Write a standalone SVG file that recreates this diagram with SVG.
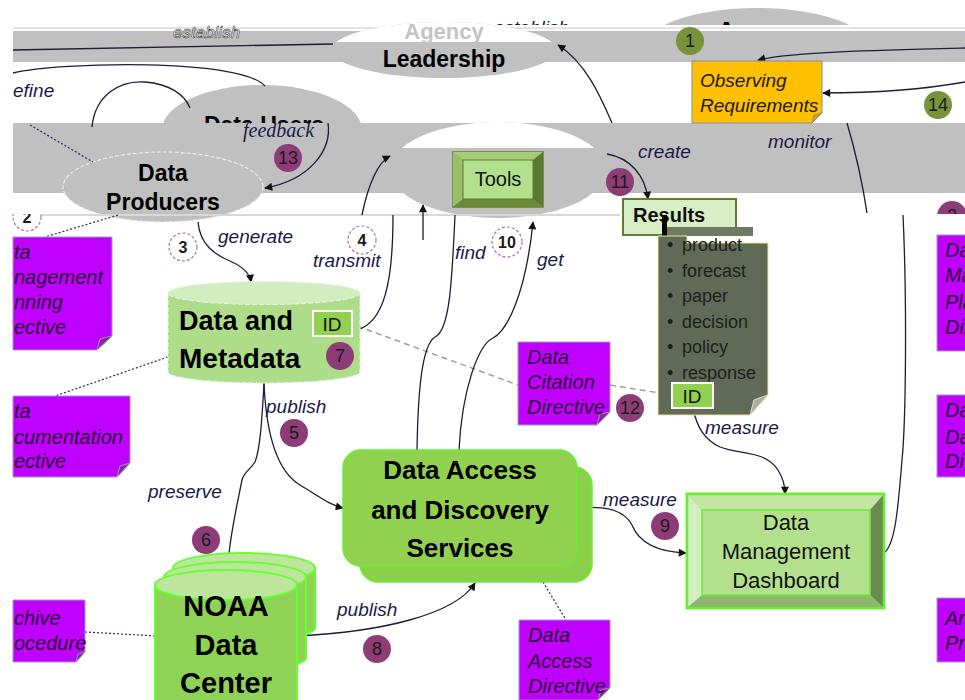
<svg xmlns="http://www.w3.org/2000/svg" width="965" height="700" viewBox="0 0 965 700">
<defs>
<style>
.lbl{font-family:"Liberation Sans",Arial,sans-serif;font-style:italic;font-size:19px;fill:#1a1a4a}
.ser{font-family:"Liberation Serif","Times New Roman",serif;font-style:italic;font-size:20px;fill:#1a1a4a}
.b{font-family:"Liberation Sans",Arial,sans-serif;font-weight:bold;fill:#000;text-anchor:middle}
.dir{font-family:"Liberation Sans",Arial,sans-serif;font-style:italic;font-size:20px;fill:#2a0030}
.conn{fill:none;stroke:#1c1c3c;stroke-width:1.3}
.dot{fill:none;stroke:#2a2a5a;stroke-width:1.2;stroke-dasharray:2 2}
.gd{fill:none;stroke:#a0a0a0;stroke-width:1.5;stroke-dasharray:6 4}
.pc{fill:#8e3c78}
.gc{fill:#77933c}
.num{font-family:"Liberation Sans",Arial,sans-serif;font-size:18px;fill:#1a1a1a;text-anchor:middle}
.dc{fill:#fff;stroke:#b070b0;stroke-width:1.2;stroke-dasharray:3 2}
.dnum{font-family:"Liberation Sans",Arial,sans-serif;font-size:16px;font-weight:bold;fill:#1a1a1a;text-anchor:middle}
.pbox{fill:#c000ff;stroke:#9a9ad0;stroke-width:1}
.fold{fill:#8a20b0;stroke:#999;stroke-width:1}
.band{fill:#c0c0c0}
.bl{font-family:"Liberation Sans",Arial,sans-serif;font-size:18px;fill:#1e1e1e}
.cylb{fill:#8ed356;stroke:#66ff33;stroke-width:2}
.cylt{fill:#bde59c;stroke:#66ff33;stroke-width:2}
</style>
<marker id="ah" viewBox="0 0 10 10" refX="9" refY="5" markerWidth="9" markerHeight="8" markerUnits="userSpaceOnUse" orient="auto"><path d="M0,0 L10,5 L0,10 z" fill="#111"/></marker>
<clipPath id="top42"><rect x="0" y="0" width="965" height="42"/></clipPath>
<clipPath id="top148"><rect x="0" y="0" width="965" height="148"/></clipPath>
<clipPath id="top26"><rect x="0" y="0" width="965" height="26"/></clipPath>
<clipPath id="below214"><rect x="0" y="214" width="965" height="486"/></clipPath>
<clipPath id="above214"><rect x="0" y="0" width="965" height="214"/></clipPath>
</defs>
<rect width="965" height="700" fill="#fff"/>

<g id="agency-top" clip-path="url(#top26)">
<ellipse cx="757" cy="50" rx="115" ry="42" fill="#c0c0c0"/>
<text x="717" y="40" font-family="Liberation Sans, Arial, sans-serif" font-weight="bold" font-size="26" fill="#000">Agency</text>
</g>
<g id="data-users">
<ellipse cx="262" cy="130" rx="100" ry="45" fill="#c0c0c0"/>
<text class="b" x="264" y="133" font-size="23">Data Users</text>
</g>
<text x="494" y="34" class="lbl">establish</text>

<rect x="13" y="25" width="952" height="6" fill="#fff"/>
<line x1="13" y1="28" x2="965" y2="28" stroke="#c8c8c8" stroke-width="1"/>
<rect class="band" x="13" y="31" width="952" height="31"/>
<rect class="band" x="13" y="123" width="952" height="70"/>
<text x="173" y="38" font-family="Liberation Sans, Arial, sans-serif" font-style="italic" font-size="17" fill="#fff" stroke="#444" stroke-width="0.6">establish</text>

<g id="leadership">
<ellipse cx="444" cy="50" rx="112" ry="28" fill="#c0c0c0"/>
<ellipse cx="444" cy="50" rx="112" ry="28" fill="#fff" clip-path="url(#top42)"/>
<text class="b" x="444" y="39" font-size="22" style="fill:#c4c4c4">Agency</text>
<text class="b" x="444" y="67" font-size="23">Leadership</text>
</g>

<g id="tools">
<ellipse cx="498" cy="170" rx="108" ry="48" fill="#c0c0c0"/>
<ellipse cx="498" cy="170" rx="108" ry="48" fill="#fff" clip-path="url(#top148)"/>
<rect x="453" y="152" width="90" height="55" fill="#7fa448" stroke="#5e7f2e" stroke-width="1.5"/>
<polygon points="453,152 543,152 533,160 463,160" fill="#a6cc7a"/>
<polygon points="453,152 463,160 463,199 453,207" fill="#98c068"/>
<polygon points="543,152 543,207 533,199 533,160" fill="#5a7a30"/>
<polygon points="453,207 543,207 533,199 463,199" fill="#6a8a38"/>
<rect x="463" y="160" width="70" height="39" fill="#b3e08c" stroke="#5a7a30" stroke-width="1"/>
<text x="498" y="186" font-family="Liberation Sans, Arial, sans-serif" font-size="20" fill="#111" text-anchor="middle">Tools</text>
</g>

<g id="data-producers">
<ellipse cx="163" cy="187" rx="100" ry="35" fill="#c0c0c0" stroke="#ececec" stroke-width="1.2" stroke-dasharray="4 2"/>
<text class="b" x="163" y="181" font-size="23">Data</text>
<text class="b" x="163" y="210" font-size="23">Producers</text>
</g>
<line x1="13" y1="215" x2="620" y2="215" stroke="#d8d8d8" stroke-width="2"/>

<g id="connectors">
<path class="conn" d="M13,50 L333,44"/>
<path class="conn" d="M13,73 C60,62 240,58 265,86"/>
<path class="conn" d="M92,127 C95,95 120,80 145,82 C170,84 185,95 190,108"/>
<path class="dot" d="M30,125 L93,162"/>
<path class="dot" d="M118,215 L45,237"/>
<path class="dot" d="M168,357 L55,396"/>
<path class="dot" d="M85,632 L157,636"/>
<path class="dot" d="M543,582 L566,620"/>
<path class="gd" d="M357,326 L518,385"/>
<path class="gd" d="M610,385 L672,395"/>
<path class="conn" d="M965,48 C880,50 790,52 758,60" marker-end="url(#ah)"/>
<path class="conn" d="M965,82 C920,90 870,93 823,93" marker-end="url(#ah)"/>
<path class="conn" d="M612,123 C600,95 585,62 558,45" marker-end="url(#ah)"/>
<path class="conn" d="M328,123 C332,150 310,180 265,188" marker-end="url(#ah)"/>
<path class="conn" d="M198,222 C200,245 215,255 232,262 C245,268 250,275 251,282" marker-end="url(#ah)"/>
<path class="conn" d="M357,330 C385,322 393,280 393,215"/>
<path class="conn" d="M362,215 C368,185 378,162 390,156" marker-end="url(#ah)"/>
<path class="conn" d="M417,450 C418,390 422,345 435,337 C450,330 452,280 455,215"/>
<path class="conn" d="M423,240 L423,205" marker-end="url(#ah)"/>
<path class="conn" d="M459,450 C462,390 478,345 493,338 C505,332 525,300 533,222" marker-end="url(#ah)"/>
<path class="conn" d="M607,154 C630,158 645,175 648,199" marker-end="url(#ah)"/>
<path class="conn" d="M264,383 C266,430 275,470 300,485 C320,497 330,505 343,508" marker-end="url(#ah)"/>
<path class="conn" d="M264,383 C262,420 260,450 255,462 C250,470 244,472 242,480 C236,510 229,540 228,566" marker-end="url(#ah)"/>
<path class="conn" d="M297,636 C380,632 455,615 475,583" marker-end="url(#ah)"/>
<path class="conn" d="M577,508 C610,505 625,512 632,525 C640,545 660,552 686,553" marker-end="url(#ah)"/>
<path class="conn" d="M693,408 C697,428 705,440 720,447 C740,455 765,450 778,470 C783,478 785,485 785,494" marker-end="url(#ah)"/>
<path class="conn" d="M847,123 C855,150 862,180 867,213"/>
<path class="conn" d="M903,215 C907,300 906,420 902,460 C898,510 895,545 884,553"/>
</g>

<g id="labels">
<text class="lbl" x="13" y="97">efine</text>
<text class="ser" x="243" y="137">feedback</text>
<text class="lbl" x="218" y="243">generate</text>
<text class="lbl" x="313" y="267">transmit</text>
<text class="lbl" x="455" y="259">find</text>
<text class="lbl" x="537" y="266">get</text>
<text class="lbl" x="266" y="413">publish</text>
<text class="lbl" x="148" y="498">preserve</text>
<text class="lbl" x="337" y="616">publish</text>
<text class="lbl" x="603" y="506">measure</text>
<text class="lbl" x="705" y="434">measure</text>
<text class="lbl" x="638" y="158">create</text>
<text class="lbl" x="768" y="148">monitor</text>
</g>

<g id="observing-requirements">
<path d="M692,61 L822,61 L822,113 L812,123 L692,123 Z" fill="#ffc000" stroke="#8a8aa0" stroke-width="1"/>
<path d="M812,123 L814,115 L822,113 Z" fill="#d8a000" stroke="#8a8aa0" stroke-width="0.8"/>
<text class="lbl" x="700" y="87" style="fill:#1a1a1a">Observing</text>
<text class="lbl" x="700" y="112" style="fill:#1a1a1a">Requirements</text>
</g>

<g id="results">
<rect x="623" y="199" width="113" height="36" fill="#d6efc6" stroke="#5e7f2e" stroke-width="2"/>
<text x="633" y="222" font-family="Liberation Sans, Arial, sans-serif" font-weight="bold" font-size="20" fill="#111">Results</text>
<rect x="662" y="215" width="5" height="28" fill="#000"/>
<rect x="667" y="227" width="86" height="9" fill="#6e7a62"/>
<path d="M658,236 L687,236 L687,243 L768,243 L768,395 L750,415 L658,415 Z" fill="#606a57" stroke="#e8e890" stroke-width="1"/>
<path d="M750,415 L754,400 L768,395 Z" fill="#a8b098" stroke="#ddd" stroke-width="1"/>
<g class="bl">
<text x="667" y="251">•</text><text x="682" y="251">product</text>
<text x="667" y="277">•</text><text x="682" y="277">forecast</text>
<text x="667" y="302">•</text><text x="682" y="302">paper</text>
<text x="667" y="328">•</text><text x="682" y="328">decision</text>
<text x="667" y="353">•</text><text x="682" y="353">policy</text>
<text x="667" y="379">•</text><text x="682" y="379">response</text>
</g>
<rect x="672" y="383" width="41" height="25" fill="#92d050" stroke="#fff" stroke-width="2"/>
<text x="692" y="403" font-family="Liberation Sans, Arial, sans-serif" font-size="19" fill="#111" text-anchor="middle">ID</text>
</g>

<g id="data-and-metadata">
<path d="M168,293 L168,372 A96,11 0 0 0 360,372 L360,293 Z" fill="#aedd8a" stroke="#e6efe0" stroke-width="1.2" stroke-dasharray="5 2"/>
<ellipse cx="264" cy="293" rx="96" ry="11.5" fill="#d2edbf" stroke="#e6efe0" stroke-width="1.2" stroke-dasharray="5 2"/>
<text x="179" y="330" font-family="Liberation Sans, Arial, sans-serif" font-weight="bold" font-size="27" fill="#000">Data and</text>
<text x="179" y="368" font-family="Liberation Sans, Arial, sans-serif" font-weight="bold" font-size="28" fill="#000">Metadata</text>
<rect x="313" y="311" width="39" height="25" fill="#92d050" stroke="#fff" stroke-width="2"/>
<text x="332" y="331" font-family="Liberation Sans, Arial, sans-serif" font-size="19" fill="#111" text-anchor="middle">ID</text>
</g>

<g id="noaa-data-center">
<path class="cylb" d="M173,568 L173,628 A71,12 0 0 0 315,628 L315,568 Z"/>
<ellipse class="cylt" cx="244" cy="568" rx="71" ry="15"/>
<path class="cylb" d="M164,577 L164,658 A71,12 0 0 0 306,658 L306,577 Z"/>
<ellipse class="cylt" cx="235" cy="577" rx="71" ry="15"/>
<path class="cylb" d="M155,585 L155,702 L297,702 L297,585 Z"/>
<ellipse class="cylt" cx="226" cy="585" rx="71" ry="15"/>
<text class="b" x="226" y="616" font-size="29">NOAA</text>
<text class="b" x="226" y="655" font-size="29">Data</text>
<text class="b" x="226" y="693" font-size="29">Center</text>
</g>

<g id="data-access-discovery">
<rect x="360" y="467" width="232" height="115" rx="18" fill="#8ad048" stroke="#66ee33" stroke-width="1.5"/>
<rect x="343" y="450" width="234" height="116" rx="18" fill="#92d050" stroke="#66ee33" stroke-width="1.5"/>
<text class="b" x="460" y="479" font-size="26">Data Access</text>
<text class="b" x="460" y="519" font-size="26">and Discovery</text>
<text class="b" x="460" y="557" font-size="26">Services</text>
</g>

<g id="dashboard">
<rect x="687" y="494" width="197" height="114" fill="#b3e08c" stroke="#66ee33" stroke-width="2.5"/>
<polygon points="687,494 884,494 870,510 702,510" fill="#c4e6a5"/>
<polygon points="687,494 702,510 702,595 687,608" fill="#d4edc0"/>
<polygon points="884,494 884,608 870,595 870,510" fill="#6a8a50"/>
<polygon points="687,608 884,608 870,595 702,595" fill="#8fb56e"/>
<rect x="702" y="510" width="168" height="85" fill="#b3e08c" stroke="#66ee33" stroke-width="1.5"/>
<rect x="687" y="494" width="197" height="114" fill="none" stroke="#66ee33" stroke-width="2.5"/>
<g font-family="Liberation Sans, Arial, sans-serif" font-size="22" fill="#111" text-anchor="middle">
<text x="786" y="530">Data</text>
<text x="786" y="559">Management</text>
<text x="786" y="588">Dashboard</text>
</g>
</g>

<g id="dir-dmp-left">
<path class="pbox" d="M13,237 L112,237 L112,336 L97,350 L13,350 Z"/>
<path class="fold" d="M97,350 L100,339 L112,336 Z"/>
<text class="dir" x="14" y="259">ta</text>
<text class="dir" x="14" y="284">nagement</text>
<text class="dir" x="14" y="309">nning</text>
<text class="dir" x="14" y="334">ective</text>
</g>
<g id="dir-doc-left">
<path class="pbox" d="M13,396 L130,396 L130,463 L117,477 L13,477 Z"/>
<path class="fold" d="M117,477 L120,466 L130,463 Z"/>
<text class="dir" x="14" y="418">ta</text>
<text class="dir" x="14" y="444">cumentation</text>
<text class="dir" x="14" y="468">ective</text>
</g>
<g id="dir-archive-left">
<path class="pbox" d="M13,600 L85,600 L85,652 L76,662 L13,662 Z"/>
<path class="fold" d="M76,662 L78,654 L85,652 Z"/>
<text class="dir" x="14" y="625">chive</text>
<text class="dir" x="14" y="650">ocedure</text>
</g>
<g id="dir-citation">
<path class="pbox" d="M518,342 L610,342 L610,412 L597,425 L518,425 Z"/>
<path class="fold" d="M597,425 L600,414 L610,412 Z"/>
<text class="dir" x="527" y="364">Data</text>
<text class="dir" x="527" y="389">Citation</text>
<text class="dir" x="527" y="414">Directive</text>
</g>
<g id="dir-access">
<path class="pbox" d="M519,620 L610,620 L610,688 L598,700 L519,700 Z"/>
<path class="fold" d="M598,700 L601,690 L610,688 Z"/>
<text class="dir" x="528" y="642">Data</text>
<text class="dir" x="528" y="668">Access</text>
<text class="dir" x="528" y="693">Directive</text>
</g>
<g id="dir-right">
<rect class="pbox" x="937" y="235" width="32" height="116"/>
<text class="dir" x="945" y="257">Da</text>
<text class="dir" x="945" y="282">Ma</text>
<text class="dir" x="945" y="309">Pla</text>
<text class="dir" x="945" y="334">Dir</text>
<rect class="pbox" x="937" y="395" width="32" height="82"/>
<text class="dir" x="945" y="417">Da</text>
<text class="dir" x="945" y="444">Da</text>
<text class="dir" x="945" y="468">Di</text>
<rect class="pbox" x="937" y="598" width="32" height="64"/>
<text class="dir" x="945" y="625">Ar</text>
<text class="dir" x="945" y="650">Pr</text>
</g>

<g id="numbers">
<circle class="gc" cx="690" cy="41" r="14"/><text class="num" x="690" y="47">1</text>
<circle class="gc" cx="938" cy="105" r="14"/><text class="num" x="938" y="111">14</text>
<circle class="pc" cx="288" cy="158" r="14"/><text class="num" x="288" y="164">13</text>
<circle class="pc" cx="340" cy="356" r="14"/><text class="num" x="340" y="362">7</text>
<circle class="pc" cx="294" cy="433" r="14"/><text class="num" x="294" y="439">5</text>
<circle class="pc" cx="206" cy="540" r="14"/><text class="num" x="206" y="546">6</text>
<circle class="pc" cx="377" cy="649" r="14"/><text class="num" x="377" y="655">8</text>
<circle class="pc" cx="665" cy="526" r="14"/><text class="num" x="665" y="532">9</text>
<circle class="pc" cx="620" cy="182" r="14"/><text class="num" x="620" y="188">11</text>
<circle class="pc" cx="630" cy="408" r="14"/><text class="num" x="630" y="414">12</text>
<g clip-path="url(#above214)"><circle class="pc" cx="952" cy="216" r="15"/><text class="num" x="952" y="222">2</text></g>
<circle class="dc" cx="183" cy="247" r="14"/><text class="dnum" x="183" y="253">3</text>
<circle class="dc" cx="362" cy="240" r="14"/><text class="dnum" x="362" y="246">4</text>
<circle class="dc" cx="507" cy="242" r="15"/><text class="dnum" x="507" y="248">10</text>
<g clip-path="url(#below214)"><circle class="dc" cx="27" cy="217" r="14"/><text class="dnum" x="27" y="223">2</text></g>
</g>
</svg>
